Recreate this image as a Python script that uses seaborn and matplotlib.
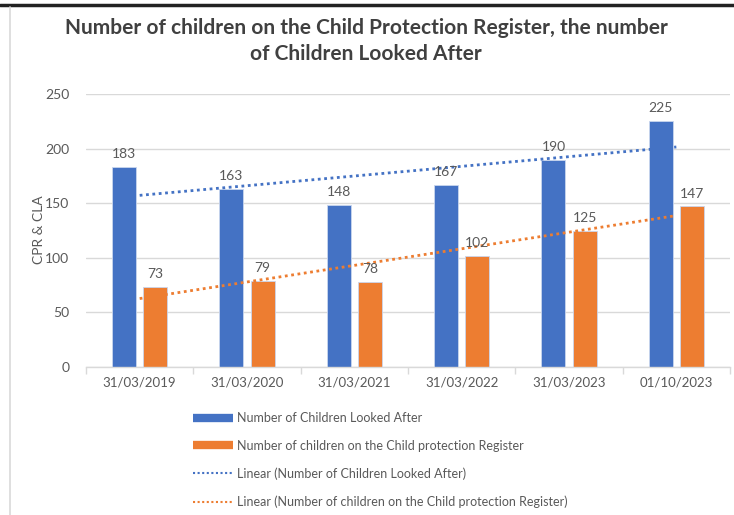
import numpy as np
import pandas as pd
import matplotlib
matplotlib.use("Agg")
import matplotlib.pyplot as plt
from matplotlib.lines import Line2D
import seaborn as sns

dates = ["31/03/2019", "31/03/2020", "31/03/2021", "31/03/2022", "31/03/2023", "01/10/2023"]
cla = [183, 163, 148, 167, 190, 225]
cpr = [73, 79, 78, 102, 125, 147]
series_names = ["Number of Children Looked After",
                "Number of children on the Child protection Register"]
trend_names = ["Linear (Number of Children Looked After)",
               "Linear (Number of children on the Child protection Register)"]
title = "Number of children on the Child Protection Register, the number\nof Children Looked After"
y_label = "CPR & CLA"
y_ticks = [0, 50, 100, 150, 200, 250]

BLUE = "#4472C4"
ORANGE = "#ED7D31"
GRAY = "#595959"

sns.set_theme(style="white")
plt.rcParams['font.family'] = ['Lato', 'DejaVu Sans']

df = pd.DataFrame({
    "date": dates * 2,
    "value": cla + cpr,
    "series": [series_names[0]] * len(dates) + [series_names[1]] * len(dates),
})

fig = plt.figure(figsize=(7.34, 5.15), dpi=100)
ax = fig.add_axes([86/734, 1 - 367/515, (730 - 86)/734, (367 - 94)/515])

sns.barplot(data=df, x="date", y="value", hue="series", order=dates,
            hue_order=series_names, palette=[BLUE, ORANGE], width=0.58, gap=0.23,
            saturation=1, edgecolor="#C9D6EE", linewidth=0.6, legend=False, ax=ax)

# data labels
for cont in ax.containers:
    ax.bar_label(cont, padding=5, fontsize=10, color=GRAY)

# linear trendlines
xs = np.arange(len(dates))
for vals, col in [(cla, BLUE), (cpr, ORANGE)]:
    k, b = np.polyfit(xs, vals, 1)
    ax.plot([xs[0], xs[-1]], [k * xs[0] + b, k * xs[-1] + b], color=col,
            linestyle=(0, (1, 1.3)), linewidth=2)

ax.set_ylim(0, 250)
ax.set_xlim(-0.5, len(dates) - 0.5)
ax.set_yticks(y_ticks)
ax.yaxis.grid(True, color="#D9D9D9", linewidth=1)
ax.set_axisbelow(True)
for s in ["top", "right", "left"]:
    ax.spines[s].set_visible(False)
ax.spines["bottom"].set_color("#D9D9D9")
ax.spines["bottom"].set_linewidth(1)
ax.tick_params(axis="y", length=0, labelsize=10, labelcolor=GRAY, pad=12)
ax.tick_params(axis="x", length=0, labelsize=9.5, labelcolor=GRAY, pad=7)
# category boundary ticks
ax.set_xticks(xs)
ax.set_xticklabels(dates)
ax.set_xticks(np.arange(-0.5, len(dates)), minor=True)
ax.tick_params(axis="x", which="minor", length=5, color="#D9D9D9", width=1, bottom=True)
ax.set_xlabel("")
ax.set_ylabel("")
fig.text(39/734, 1 - 230/515, y_label, rotation=90, ha="center", va="center",
         fontsize=10, color=GRAY)

fig.text(366/734, 1 - 41/515, title, ha="center", va="center", fontsize=15,
         fontweight="bold", color="#404040", linespacing=1.35, multialignment="center")

handles = [
    Line2D([0], [0], color=BLUE, lw=6, solid_capstyle="butt"),
    Line2D([0], [0], color=ORANGE, lw=6, solid_capstyle="butt"),
    Line2D([0], [0], color=BLUE, lw=1.5, linestyle=(0, (1, 1.2))),
    Line2D([0], [0], color=ORANGE, lw=1.5, linestyle=(0, (1, 1.2))),
]
fig.legend(handles, series_names + trend_names, loc="upper left",
           bbox_to_anchor=(193/734, 1 - 412/515), frameon=False, fontsize=9,
           labelcolor=GRAY, handlelength=3.2, handletextpad=0.35, labelspacing=1.25,
           borderaxespad=0, borderpad=0)

# frame lines
fig.add_artist(Line2D([0, 1], [1 - 5/515, 1 - 5/515], transform=fig.transFigure,
                      color="#222222", lw=2.5))
fig.add_artist(Line2D([9.5/734, 9.5/734], [0, 1 - 7/515], transform=fig.transFigure,
                      color="#D9D9D9", lw=1.2))

fig.savefig("out.png", dpi=100, facecolor="white")
